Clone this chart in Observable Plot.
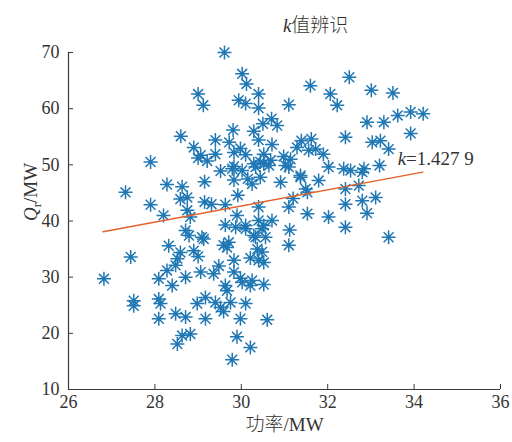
<!DOCTYPE html>
<html>
<head>
<meta charset="utf-8">
<script src="https://cdn.jsdelivr.net/npm/d3@7"></script>
<script src="https://cdn.jsdelivr.net/npm/@observablehq/plot@0.6"></script>
<style>
  html, body { margin: 0; padding: 0; background: #fff; }
  #chart svg { display: block; }
</style>
</head>
<body>
<div id="chart"></div>
<script>
// Scatter points (功率/MW, Qr/MW)
const powerMW = [
  29.61,30.02,30.12,31.6,32.5,33.01,33.51,29.0,29.12,29.94,30.1,30.4,30.4,31.1,32.06,32.22,
  28.6,28.9,29.0,27.9,29.21,29.06,30.7,30.5,30.83,30.29,29.81,29.4,29.72,30.4,30.71,31.39,
  31.62,31.29,31.56,31.72,31.9,32.41,29.4,29.98,29.83,30.1,30.52,30.44,30.68,30.98,31.14,31.02,
  29.83,30.29,30.52,29.52,29.79,30.02,30.33,30.64,31.1,31.37,31.79,32.02,32.37,32.53,32.8,32.84,
  33.2,32.91,33.3,33.62,33.92,34.21,33.92,33.03,33.22,33.41,32.41,32.72,32.41,32.8,33.11,32.91,
  32.41,33.41,29.15,29.83,30.15,30.44,30.25,30.91,31.37,31.49,31.53,29.92,31.2,29.15,29.31,29.63,
  30.4,31.1,31.53,32.02,29.9,29.63,29.87,30.1,30.4,30.71,30.52,30.1,30.48,31.12,29.09,30.29,
  30.56,30.33,29.59,29.71,30.37,30.48,31.1,30.21,30.52,29.83,29.48,29.0,29.06,29.36,29.83,29.98,
  30.25,30.52,29.63,29.67,30.21,30.02,30.4,29.67,
  27.32,27.9,28.28,28.63,28.59,28.75,28.2,28.75,28.82,28.71,28.79,29.13,28.32,28.59,28.9,27.44,
  28.52,28.28,28.48,28.71,26.82,28.09,28.4,27.51,27.51,28.09,28.13,28.09,28.48,28.71,28.98,29.17,
  29.17,28.52,28.63,28.82,29.4,29.59,29.75,29.52,30.1,29.98,30.6,29.9,30.21,29.79
];
const qrMW = [
  70,66.2,64.4,64.1,65.6,63.3,62.8,62.6,60.6,61.5,60.9,62.6,60.1,60.7,62.6,60.6,
  55.1,53.1,51.2,50.5,50.7,51.7,58.2,57.3,57.0,56.0,56.2,54.4,54.0,54.4,53.6,54.3,
  54.6,53.1,52.6,52.8,51.9,54.9,51.9,52.9,52.2,51.8,51.9,50.5,50.8,51.5,51.0,49.9,
  49.7,50.2,50.2,48.9,49.3,49.0,49.6,49.9,49.6,48.1,47.2,49.6,49.3,49.0,48.7,49.3,
  49.9,57.6,57.6,58.8,59.4,59.1,55.6,54.0,54.3,52.8,45.7,46.3,43.0,43.6,44.2,41.4,
  38.9,37.1,47.0,47.3,47.5,47.8,46.6,46.9,47.8,45.7,45.1,44.6,44.0,43.4,43.0,42.9,
  42.5,42.5,41.3,40.7,41.0,39.3,38.9,39.2,40.1,40.1,39.2,38.6,38.6,38.4,37.1,37.4,
  37.1,37.1,35.7,36.2,35.0,34.5,35.7,33.4,32.6,33.0,32.0,33.7,30.9,30.6,30.9,29.8,
  29.4,28.7,28.5,27.6,28.5,29.1,33.0,35.3,
  45.1,42.9,46.5,46.1,43.9,44.2,41.0,41.9,40.7,38.3,37.4,36.8,35.6,34.4,34.7,33.6,
  33.3,31.2,32.1,30.0,29.7,29.7,28.5,25.8,24.9,26.1,25.3,22.6,23.5,22.9,25.3,26.4,
  22.6,18.1,19.6,19.9,25.5,23.9,25.5,24.6,25.3,22.6,22.4,19.4,17.5,15.3
];
// Fitted line end points
const fitX = [26.8, 34.2];
const fitY = [38.1, 48.7];
// Tick labels
const xTicks = [26, 28, 30, 32, 34, 36];
const yTicks = [10, 20, 30, 40, 50, 60, 70];
const titleText = "k值辨识";
const xLabel = "功率/MW";
const yLabel = "Qr/MW";
const annot = "k=1.427 9";

const points = powerMW.map((x, i) => ({x, y: qrMW[i]}));
const fit = fitX.map((x, i) => ({x, y: fitY[i]}));

const asterisk8 = {
  draw(ctx, size) {
    const r = Math.sqrt(size / Math.PI);
    const d = r * Math.SQRT1_2;
    ctx.moveTo(-r, 0); ctx.lineTo(r, 0);
    ctx.moveTo(0, -r); ctx.lineTo(0, r);
    ctx.moveTo(-d, -d); ctx.lineTo(d, d);
    ctx.moveTo(-d, d); ctx.lineTo(d, -d);
  }
};

const serif = "'Liberation Serif', 'Times New Roman', serif";
const cjk = "'Liberation Serif', 'Noto Sans CJK SC', serif";
const axisColor = "#3a3a3a";

const chart = Plot.plot({
  width: 512,
  height: 442,
  marginLeft: 68,
  marginRight: 12,
  marginTop: 52,
  marginBottom: 53,
  style: {fontFamily: serif, fontSize: "18px", color: "#333", background: "#fff"},
  x: {domain: [26, 36]},
  y: {domain: [10, 70]},
  marks: [
    Plot.ruleX([26], {stroke: axisColor, strokeWidth: 1.2}),
    Plot.ruleY([10], {stroke: axisColor, strokeWidth: 1.2}),
    Plot.axisX(xTicks, {tickSize: -5, tickFormat: () => "", stroke: axisColor, label: null}),
    Plot.axisY(yTicks, {tickSize: -5, tickFormat: () => "", stroke: axisColor, label: null}),
    Plot.axisX(xTicks, {tickSize: 0, tickPadding: 6, fontSize: 18, fill: "#333", label: null}),
    Plot.axisY(yTicks, {tickSize: 0, tickPadding: 9, fontSize: 18, fill: "#333", label: null}),
    Plot.dot(points, {x: "x", y: "y", symbol: asterisk8, r: 7, fill: "none", stroke: "#1f77b4", strokeWidth: 1.5}),
    Plot.line(fit, {x: "x", y: "y", stroke: "#e5602a", strokeWidth: 1.5}),
    Plot.text([annot], {x: 33.62, y: 51.1, textAnchor: "start", fontSize: 19, fill: "#333", fontFamily: serif}),
    Plot.text([titleText], {x: 31.72, frameAnchor: "top", dy: -34, fontSize: 19, fill: "#333", fontFamily: cjk}),
    Plot.text([xLabel], {frameAnchor: "bottom", dy: 41, fontSize: 19, fill: "#333", fontFamily: cjk}),
    Plot.text([yLabel], {frameAnchor: "left", dx: -38, rotate: -90, fontSize: 19, fill: "#333", fontFamily: serif})
  ]
});

document.getElementById("chart").appendChild(chart);

// Rich text: italic k / Q and subscript r
d3.select(chart).selectAll("text").each(function() {
  const t = this.textContent;
  const sel = d3.select(this);
  if (t === annot) {
    sel.text(null);
    sel.append("tspan").attr("font-style", "italic").text("k");
    sel.append("tspan").text("=1.427 9");
  } else if (t === titleText) {
    sel.text(null);
    sel.append("tspan").attr("font-style", "italic").attr("font-family", serif).text("k");
    sel.append("tspan").attr("font-family", "'Noto Sans CJK SC', sans-serif").attr("font-weight", 300).text("值辨识");
  } else if (t === xLabel) {
    sel.text(null);
    sel.append("tspan").attr("font-family", "'Noto Sans CJK SC', sans-serif").attr("font-weight", 300).text("功率");
    sel.append("tspan").attr("font-family", serif).text("/MW");
  } else if (t === yLabel) {
    sel.text(null);
    sel.append("tspan").attr("font-style", "italic").text("Q");
    sel.append("tspan").attr("font-size", 13).attr("dy", 4).text("r");
    sel.append("tspan").attr("dy", -4).text("/MW");
  }
});
</script>
</body>
</html>
